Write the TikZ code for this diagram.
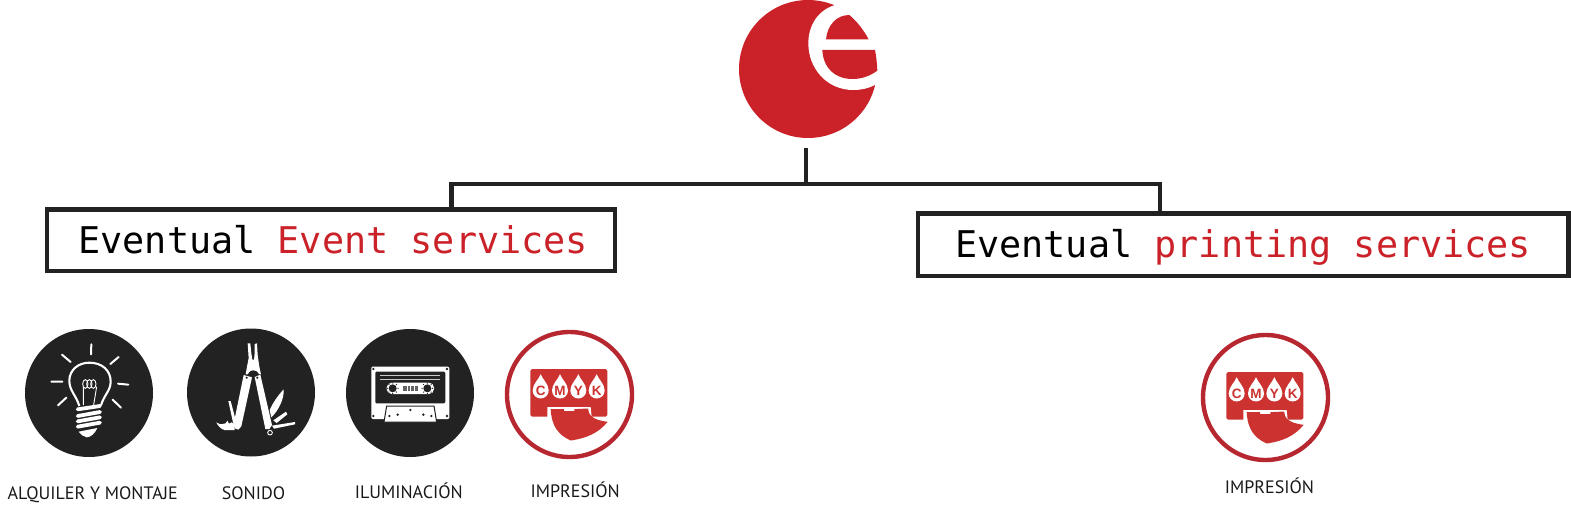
\documentclass[tikz,border=0pt]{standalone}
\usepackage{fontspec}
\setmonofont{DejaVu Sans Mono}
\setsansfont{PT Sans}
\newfontfamily\dropfont{Liberation Sans}
\definecolor{logored}{HTML}{CB2229}
\definecolor{inkdark}{HTML}{222222}
\definecolor{ringred}{HTML}{B7272F}
\definecolor{printred}{HTML}{CB3230}
\tikzset{
  disc/.style={circle,fill=inkdark,minimum size=128pt,inner sep=0pt,draw=none},
  ring/.style={circle,draw=ringred,line width=4.4pt,fill=white,minimum size=125pt,inner sep=0pt},
  titlebox/.style={draw=inkdark,line width=4.4pt,outer sep=0pt,fill=white,inner sep=0pt,font=\ttfamily\fontsize{36.8}{40}\selectfont,text height=26pt,text depth=0pt,anchor=north west},
  caption/.style={font=\sffamily\fontsize{18}{20}\selectfont,text=black!90,inner sep=0pt,anchor=base},
  wire/.style={draw=inkdark,line width=4.4pt},
  dropletter/.style={font=\dropfont\bfseries\fontsize{13.5}{14}\selectfont,text=printred,inner sep=0pt},
  printericon/.pic={
    \begin{scope}[scale=1/3,shift={(-718.5,-224)}]
      \fill[printred,rounded corners=1.5pt] (601,148) -- (832,148) -- (832,290) -- (601,290) -- cycle;
      \fill[white] (652,291) -- (652,262) -- (782,262) -- (785,291) -- cycle;
      \fill[white] (770,291) rectangle (834,312);
      \fill[printred] (662,268) -- (702,268) -- (702,274) -- (733,274) -- (733,268) -- (774,266)
        .. controls (776,285) and (785,300) .. (833,306)
        .. controls (805,340) and (770,355) .. (722,362)
        .. controls (685,345) and (665,320) .. (662,268) -- cycle;
      \foreach \px/\pl in {632/C,690/M,745/Y,800/K}{
        \fill[white] (\px,163) .. controls (\px+5,178) and (\px+24,192) .. (\px+24,212)
          arc[start angle=0,end angle=180,radius=24]
          .. controls (\px-24,192) and (\px-5,178) .. (\px,163) -- cycle;
        \node[dropletter] (drop\pl) at (\px,212) {\pl};
      }
    \end{scope}
  }
}
\begin{document}
\begin{tikzpicture}[x=1pt,y=-1pt]
\useasboundingbox (0,0) rectangle (1571,506);
% logo
\node[circle,fill=logored,minimum size=138pt,inner sep=0pt] (logo) at (808,69) {};
\begin{scope}[shift={(720,0)},scale=1/3]
  \fill[white] (345,15) .. controls (295,30) and (265,75) .. (265,130)
    .. controls (265,205) and (320,270) .. (400,270)
    .. controls (425,270) and (445,265) .. (465,255)
    -- (500,255) -- (500,0) -- (345,0) -- cycle;
  \fill[logored] (318,118) .. controls (322,75) and (350,45) .. (388,45)
    .. controls (412,65) and (432,92) .. (446,118) -- cycle;
  \fill[logored] (307,150) -- (465,150) .. controls (469,170) and (471,190) .. (472,212)
    .. controls (450,228) and (425,237) .. (398,237)
    .. controls (345,237) and (310,205) .. (307,150) -- cycle;
\end{scope}
% boxes
\node[titlebox,minimum width=568pt,minimum height=61.5pt] (evbox) at (47,209.5) {\hspace{4.4pt}\textcolor{black}{Eventual} \textcolor{logored}{Event services}};
\node[titlebox,minimum width=650.3pt,minimum height=62.6pt] (prbox) at (918,213.4) {\textcolor{black}{Eventual} \textcolor{logored}{printing services}\hspace{3.4pt}};
% connectors
\coordinate (stem) at (805.7,148.4);
\coordinate (junction) at (805.7,184);
\coordinate (evdrop) at (451.3,184);
\coordinate (prdrop) at (1160,184);
\draw[wire] (stem) -- (junction);
\draw[wire] (evbox.north -| evdrop) -- (evdrop) -- (prdrop) -- (prbox.north -| prdrop);
% discs
\node[disc] (bulb) at (89,393) {};
\node[disc] (tool) at (251,392.5) {};
\node[disc] (tape) at (410,393) {};
\node[ring] (printA) at (569.5,394.5) {};
\node[ring] (printB) at (1265.5,397.5) {};
% bulb
\begin{scope}[shift={(0,320)},scale=1/3]
  \draw[white,line width=2pt,line cap=round] (274,73)--(273,103) (186,104)--(212,126) (356,111)--(331,132) (154,185)--(187,185) (354,191)--(385,194) (199,233)--(174,256) (338,239)--(363,263);
  \draw[white,line width=2.1pt] (238,258) .. controls (228,225) and (208,212) .. (208,182) .. controls (208,150) and (235,128) .. (268,128) .. controls (305,128) and (332,150) .. (332,185) .. controls (332,212) and (312,225) .. (303,256);
  \draw[white,line width=0.9pt] (250,255) -- (250,200) (290,200) -- (281,255);
  \foreach \cx in {256,268,280}{\draw[white,line width=0.9pt] (\cx,192) ellipse[x radius=8,y radius=13];}
  \draw[white,line width=3.8pt,line cap=round] (233,268)--(300,258) (233,288)--(300,276) (233,304)--(300,292) (233,320)--(300,308);
  \fill[white] (236,335) -- (292,324) .. controls (285,340) and (272,352) .. (260,352) .. controls (250,350) and (242,343) .. (236,335) -- cycle;
\end{scope}
% tool
\begin{scope}[shift={(205,335)},scale=1/3]
  \fill[white] (128,25) -- (136,25) -- (139,55) -- (142,74) -- (147,74) -- (149,55) -- (149,27) -- (156,25) -- (158,60) -- (163,95) -- (168,118) -- (122,118) -- (126,95) -- (131,70) -- cycle;
  \fill[inkdark] (128,120) .. controls (135,100) and (155,102) .. (164,120) -- cycle;
  \draw[white,line width=1.1pt] (130,110) .. controls (138,98) and (153,98) .. (162,110);
  \fill[white] (116,120) -- (141,127) -- (109,274) -- (100,284) -- (89,280) -- (86,266) -- cycle;
  \fill[white] (149,126) -- (166,119) -- (201,270) -- (193,282) -- (181,282) -- cycle;
  \fill[inkdark] (125,128) circle[radius=3.5];
  \fill[inkdark] (157,128) circle[radius=3.5];
  \fill[white] (236,163) .. controls (238,190) and (222,225) .. (199,247) -- (194,226) .. controls (202,205) and (220,180) .. (236,163) -- cycle;
  \fill[white] (243,230) -- (247,238) -- (215,264) -- (205,256) -- cycle;
  \fill[white] (270,261) -- (270,268) -- (207,281) -- (201,272) -- cycle;
  \fill[white] (70,198) -- (77,198) -- (92,255) -- (85,267) -- cycle;
  \fill[white] (34,262) .. controls (45,270) and (55,268) .. (62,265) -- (67,257) -- (72,266) -- (80,262) -- (88,268) -- (89,285) -- (58,285) .. controls (48,282) and (38,272) .. (34,262) -- cycle;
  \draw[white,line width=0.9pt] (195,293) circle[radius=7];
\end{scope}
% cassette
\begin{scope}[shift={(330,320)},scale=1/3]
  \fill[white,rounded corners=1.2pt] (124,140) rectangle (358,297);
  \fill[inkdark,rounded corners=1.2pt] (136,155) rectangle (346,250);
  \draw[white!75!inkdark,line width=0.8pt] (150,165)--(331,165) (150,177)--(331,177);
  \fill[white,rounded corners=5pt] (170,188) rectangle (312,222);
  \foreach \rx in {188,292}{
    \fill[inkdark] (\rx,205) circle[radius=12];
    \foreach \ra in {0,45,...,315}{\fill[inkdark] (\rx,205) ++(\ra:16) circle[radius=2];}
  }
  \fill[inkdark!70!white] (220,197) rectangle (263,212);
  \draw[white,line width=0.5pt] (231,197)--(231,212) (241,197)--(241,212) (252,197)--(252,212);
  \draw[inkdark,line width=1pt,fill=white] (170,258) -- (312,258) -- (320,306) -- (162,306) -- cycle;
  \foreach \dx/\dy in {130/288,351/288,130/147,351/147,178/288,203/284,241/270,280/284,304/288}{\fill[inkdark] (\dx,\dy) circle[radius=4];}
\end{scope}
% printers
\pic at (printA) {printericon};
\pic at (printB) {printericon};
% captions
\node[caption] (capA) at (92.7,499.4) {ALQUILER Y MONTAJE};
\node[caption] (capB) at (253.5,499.4) {SONIDO};
\node[caption] (capC) at (408.8,498.8) {ILUMINACIÓN};
\node[caption] (capD) at (575.2,497.4) {IMPRESIÓN};
\node[caption] (capE) at (1269.5,493.4) {IMPRESIÓN};
\end{tikzpicture}
\end{document}
